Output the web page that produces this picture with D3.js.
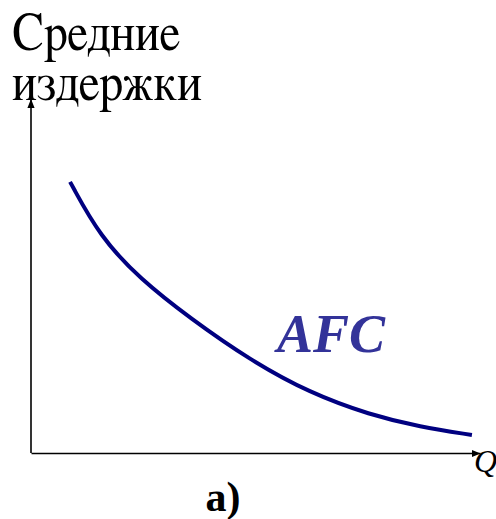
<!DOCTYPE html>
<html><head><meta charset="utf-8">
<script src="https://cdn.jsdelivr.net/npm/d3@7"></script>
<style>body{margin:0;background:#fff}svg{display:block}
.cyr{font-family:"FreeSerif","DejaVu Serif",serif}
.serif{font-family:"Liberation Serif","Times New Roman","FreeSerif",serif}</style>
</head><body>
<svg id="c" width="496" height="519"></svg>
<script>
const qValues   = [0.87, 1.54, 2.43, 3.54, 4.88, 6.21, 7.55, 8.66, 9.82];
const afcValues = [7.68, 6.12, 4.93, 3.82, 2.63, 1.70, 1.08, 0.74, 0.51];
const yTitle = ["Средние", "издержки"];
const xLabel = "Q";
const seriesLabel = "AFC";
const panelLabel = "а)";

const svg = d3.select("#c");
const x = d3.scaleLinear().domain([0, 10]).range([31, 480]);
const y = d3.scaleLinear().domain([0, 10]).range([453, 100]);

const defs = svg.append("defs");
defs.append("marker").attr("id","arr").attr("viewBox","0 0 10 10")
  .attr("refX",10).attr("refY",5).attr("markerWidth",9).attr("markerHeight",9)
  .attr("markerUnits","userSpaceOnUse").attr("orient","auto")
  .append("path").attr("d","M0,1 L10,5 L0,9 Z").attr("fill","#000");

const xAxis = svg.append("g").attr("transform",`translate(0,${y(0)})`)
  .call(d3.axisBottom(x).tickValues([]).tickSizeOuter(0));
xAxis.select(".domain").attr("stroke","#000").attr("stroke-width",1.6).attr("marker-end","url(#arr)");
const yAxis = svg.append("g").attr("transform",`translate(${x(0)},0)`)
  .call(d3.axisLeft(y).tickValues([]).tickSizeOuter(0));
yAxis.select(".domain").attr("d",`M0,${y(0)}V${y(10)-1}`).attr("stroke","#000").attr("stroke-width",1.6).attr("marker-end","url(#arr)");

const data = qValues.map((q,i)=>({q, v: afcValues[i]}));
svg.append("path").datum(data)
  .attr("d", d3.line().x(d=>x(d.q)).y(d=>y(d.v)).curve(d3.curveBasis))
  .attr("fill","none").attr("stroke","#000080").attr("stroke-width",4).attr("stroke-linecap","butt");

const titleWidths = [168, 190];
svg.selectAll("text.title").data(yTitle).join("text").attr("class","title cyr")
  .attr("x",12).attr("y",(d,i)=>50+i*50)
  .attr("font-size",54).attr("fill","#000")
  .attr("textLength",(d,i)=>titleWidths[i]).attr("lengthAdjust","spacingAndGlyphs")
  .text(d=>d);

svg.append("text").attr("class","serif").attr("x",277).attr("y",352)
  .attr("font-size",54).attr("font-weight","bold").attr("font-style","italic")
  .attr("fill","#333399").text(seriesLabel);

svg.append("text").attr("class","serif").attr("x",474).attr("y",472)
  .attr("font-size",32).attr("font-style","italic").attr("fill","#000").text(xLabel);

svg.append("text").attr("class","serif").attr("x",223).attr("y",511).attr("text-anchor","middle")
  .attr("font-size",42).attr("font-weight","bold").attr("fill","#000").text(panelLabel);
</script>
</body></html>
